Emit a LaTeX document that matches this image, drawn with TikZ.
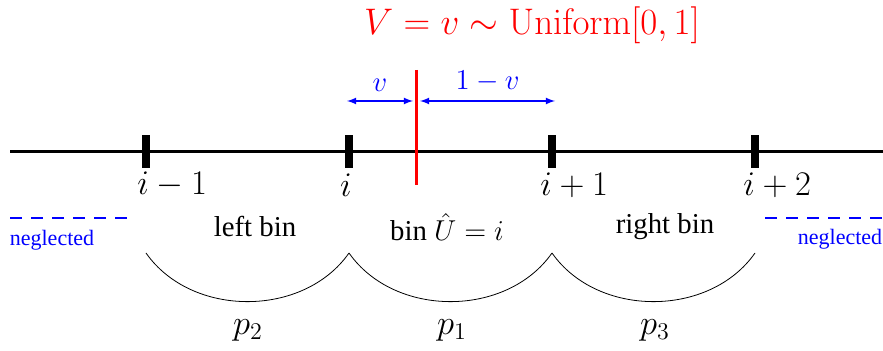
\documentclass[tikz,border=0pt]{standalone}
\usepackage[no-math]{fontspec}
\usepackage{amsmath}
\usetikzlibrary{arrows, positioning, calc}
\setmainfont{Liberation Serif}

\begin{document}
\begin{tikzpicture}[x=0.5pt, y=0.5pt, >=latex]
    \tikzset{
        tickmark/.style={fill=black, inner sep=0pt, minimum width=4pt, minimum height=16.5pt},
        ticklabel/.style={font=\LARGE, inner sep=0pt},
        binlabel/.style={font=\Large, inner sep=0pt},
        neglabel/.style={text=blue, font=\fontsize{11}{13}\selectfont, inner sep=0pt},
        problabel/.style={font=\LARGE, inner sep=0pt},
        bluearrow/.style={<->, blue, line width=0.6pt},
        negline/.style={draw=blue, line width=0.6pt, dash pattern=on 6pt off 4.5pt},
        cup/.style={black, line width=0.5pt, bend right=55}
    }
    \useasboundingbox (0,0) rectangle (883,351);

    % Nodes
    \node (title) at (532, 326) [text=red, font=\LARGE, inner sep=0pt] {\scalebox{1.07}{$V = v \sim \mathrm{Uniform}[0,1]$}};

    \coordinate (ax0) at (10, 199);
    \coordinate (ax1) at (883, 199);
    \draw[line width=1.5pt] (ax0) -- (ax1);

    \node (t0) at (146, 199) [tickmark] {};
    \node (t1) at (349, 199) [tickmark] {};
    \node (t2) at (552, 199) [tickmark] {};
    \node (t3) at (755, 199) [tickmark] {};

    \node (l0) at (137, 166) [ticklabel, anchor=west] {$i-1$};
    \node (l1) at (346, 166) [ticklabel] {$i$};
    \node (l2) at (540, 166) [ticklabel, anchor=west] {$i+1$};
    \node (l3) at (743, 166) [ticklabel, anchor=west] {$i+2$};

    \node (left) at (255, 124) [binlabel] {left bin};
    \node (mid) at (447, 124) [binlabel] {bin $\hat{U} = i$};
    \node (right) at (665, 124) [binlabel] {right bin};

    \node (negl) at (52, 111) [neglabel] {neglected};
    \node (negr) at (840, 112) [neglabel] {neglected};

    \node (p2) at (248, 21) [problabel] {$p_2$};
    \node (p1) at (452, 21) [problabel] {$p_1$};
    \node (p3) at (655, 21) [problabel] {$p_3$};

    \coordinate (vtop) at (416, 281);
    \coordinate (vbot) at (416, 166);
    \coordinate (va) at (347, 250);
    \coordinate (vb) at (413, 250);
    \coordinate (wa) at (420, 250);
    \coordinate (wb) at (555, 250);
    \coordinate (dl0) at (10, 133);
    \coordinate (dl1) at (136, 133);
    \coordinate (dr0) at (765, 133);
    \coordinate (dr1) at (883, 133);
    \coordinate (a0) at (146, 98);
    \coordinate (a1) at (349, 98);
    \coordinate (a2) at (552, 98);
    \coordinate (a3) at (755, 98);

    % Edges
    \draw[red, line width=1.5pt] (vtop) -- (vbot);

    \draw[bluearrow] (va) -- node[above=1pt, font=\Large] {$v$} (vb);
    \draw[bluearrow] (wa) -- node[above=1pt, font=\Large] {$1-v$} (wb);

    \draw[negline] (dl0) -- (dl1);
    \draw[negline] (dr0) -- (dr1);

    \draw (a0) to[cup] (a1);
    \draw (a1) to[cup] (a2);
    \draw (a2) to[cup] (a3);

\end{tikzpicture}
\end{document}
